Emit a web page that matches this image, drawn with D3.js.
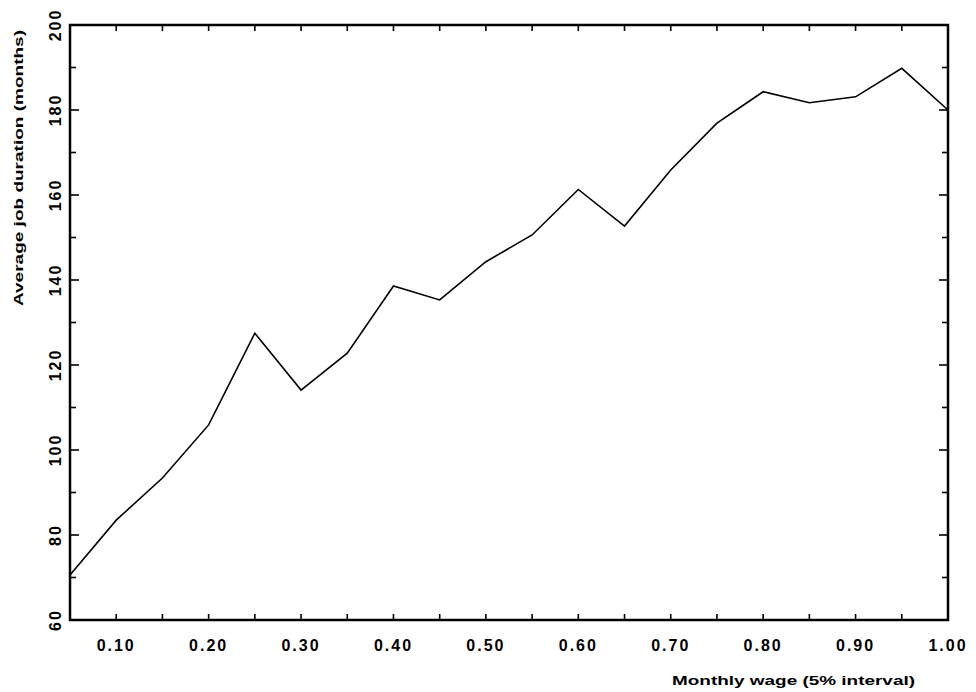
<!DOCTYPE html>
<html>
<head>
<meta charset="utf-8">
<script src="https://cdn.jsdelivr.net/npm/d3@7"></script>
<style>
  body { margin: 0; background: #fff; }
  svg text { font-family: "Liberation Sans", Arial, sans-serif; font-weight: bold; fill: #000; }
</style>
</head>
<body>
<svg id="chart" width="976" height="692"></svg>
<script>
// wage quantile (5% steps) and average job duration in months
const wageShare = [0.05, 0.10, 0.15, 0.20, 0.25, 0.30, 0.35, 0.40, 0.45, 0.50,
                   0.55, 0.60, 0.65, 0.70, 0.75, 0.80, 0.85, 0.90, 0.95, 1.00];
const jobDuration = [70.6, 83.5, 93.4, 105.9, 127.5, 114.1, 122.8, 138.6, 135.3, 144.3,
                     150.6, 161.3, 152.7, 165.9, 176.9, 184.3, 181.7, 183.1, 189.8, 180.0];
const xTickLabels = ["0.10", "0.20", "0.30", "0.40", "0.50", "0.60", "0.70", "0.80", "0.90", "1.00"];
const yTickLabels = ["60", "80", "100", "120", "140", "160", "180", "200"];

const margin = {top: 25, right: 28, bottom: 72, left: 70};
const width = 976 - margin.left - margin.right,
      height = 692 - margin.top - margin.bottom;

const svg = d3.select("#chart");
const g = svg.append("g").attr("transform", `translate(${margin.left},${margin.top})`);

const x = d3.scaleLinear().domain([0.05, 1.00]).range([0, width]);
const y = d3.scaleLinear().domain([60, 200]).range([height, 0]);

const xMajor = xTickLabels.map(Number);
const xMinor = d3.range(0.15, 1.0, 0.1);
const yMajor = yTickLabels.map(Number);
const yMinor = d3.range(70, 200, 20);

// ticks point inward on all four sides
function drawTicks() {
  const tk = g.append("g").attr("stroke", "#000").attr("stroke-width", 1.6);
  xMajor.concat(xMinor).forEach(v => {
    tk.append("line").attr("x1", x(v)).attr("x2", x(v)).attr("y1", height).attr("y2", height - 6);
    tk.append("line").attr("x1", x(v)).attr("x2", x(v)).attr("y1", 0).attr("y2", 6);
  });
  yMajor.forEach(v => {
    tk.append("line").attr("x1", 0).attr("x2", 9).attr("y1", y(v)).attr("y2", y(v));
    tk.append("line").attr("x1", width).attr("x2", width - 9).attr("y1", y(v)).attr("y2", y(v));
  });
  yMinor.forEach(v => {
    tk.append("line").attr("x1", 0).attr("x2", 6).attr("y1", y(v)).attr("y2", y(v));
    tk.append("line").attr("x1", width).attr("x2", width - 6).attr("y1", y(v)).attr("y2", y(v));
  });
}
drawTicks();

// frame
g.append("rect")
  .attr("x", 0).attr("y", 0)
  .attr("width", width).attr("height", height)
  .attr("fill", "none")
  .attr("stroke", "#000")
  .attr("stroke-width", 2.5);

// x tick labels
g.selectAll(".xlab")
  .data(xTickLabels)
  .enter().append("text")
  .attr("class", "xlab")
  .attr("x", d => x(+d))
  .attr("y", height + 31)
  .attr("text-anchor", "middle")
  .attr("font-size", 16)
  .attr("letter-spacing", 2)
  .text(d => d);

// y tick labels (rotated)
g.selectAll(".ylab")
  .data(yTickLabels)
  .enter().append("text")
  .attr("class", "ylab")
  .attr("transform", d => `translate(-9,${y(+d)}) rotate(-90)`)
  .attr("text-anchor", "middle")
  .attr("font-size", 16)
  .attr("letter-spacing", 2)
  .text(d => d);

// line
const line = d3.line()
  .x((d, i) => x(wageShare[i]))
  .y(d => y(d));

g.append("path")
  .datum(jobDuration)
  .attr("d", line)
  .attr("fill", "none")
  .attr("stroke", "#000")
  .attr("stroke-width", 1.6);

// axis titles
svg.append("text")
  .attr("x", 915)
  .attr("y", 685)
  .attr("text-anchor", "end")
  .attr("font-size", 13)
  .attr("textLength", 243)
  .attr("lengthAdjust", "spacingAndGlyphs")
  .text("Monthly wage (5% interval)");

svg.append("text")
  .attr("transform", "translate(23,30) rotate(-90)")
  .attr("text-anchor", "end")
  .attr("font-size", 13)
  .attr("textLength", 276)
  .attr("lengthAdjust", "spacingAndGlyphs")
  .text("Average job duration (months)");
</script>
</body>
</html>
